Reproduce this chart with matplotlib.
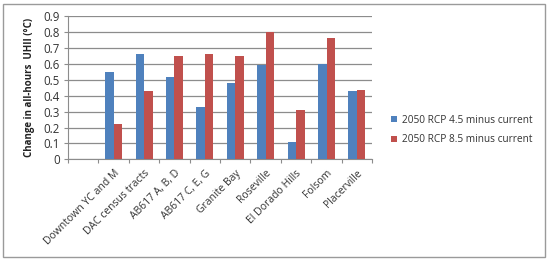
import numpy as np
import matplotlib
matplotlib.use("Agg")
import matplotlib.pyplot as plt
from matplotlib.patches import Rectangle

categories = ["", "Downtown YC and M", "DAC census tracts", "AB617 A, B, D",
              "AB617 C, E, G", "Granite Bay", "Roseville", "El Dorado Hills",
              "Folsom", "Placerville"]
rcp45 = [0, 0.55, 0.66, 0.52, 0.33, 0.48, 0.59, 0.11, 0.60, 0.43]
rcp85 = [0, 0.22, 0.43, 0.65, 0.66, 0.65, 0.80, 0.31, 0.76, 0.435]
yticks = [0, 0.1, 0.2, 0.3, 0.4, 0.5, 0.6, 0.7, 0.8, 0.9]

plt.rcParams['font.family'] = ['Open Sans', 'DejaVu Sans']

fig = plt.figure(figsize=(5.5, 2.6), dpi=100)
ax = fig.add_axes([0.1236, 0.387, 0.553, 0.551])

x = np.arange(len(categories))
w = 0.28
ax.bar(x - w/2, rcp45, w, color='#4F81BD', label='2050 RCP 4.5 minus current', zorder=3)
ax.bar(x + w/2, rcp85, w, color='#C0504D', label='2050 RCP 8.5 minus current', zorder=3)

ax.set_xlim(-0.5, len(categories) - 0.5)
ax.set_ylim(0, 0.9)
ax.set_yticks(yticks)
ax.set_yticklabels([f"{v:g}" for v in yticks], fontsize=8.3, color='#333333')
ax.yaxis.grid(True, color='#8c8c8c', linewidth=0.9, zorder=0)

ax.set_xticks(np.arange(len(categories) + 1) - 0.5)
ax.set_xticklabels([])
ax.set_xticks(x, minor=True)
ax.set_xticklabels(categories, minor=True, rotation=45, ha='right',
                   rotation_mode='anchor', fontsize=7.5, color='#333333')
ax.tick_params(axis='x', which='minor', length=0, pad=6)
ax.tick_params(axis='x', which='major', length=3, color='#8c8c8c')
ax.tick_params(axis='y', length=3, color='#8c8c8c', pad=3)

for s in ['top', 'right']:
    ax.spines[s].set_visible(False)
for s in ['left', 'bottom']:
    ax.spines[s].set_color('#8c8c8c')

ax.set_ylabel("Change in all-hours  UHII (°C)", fontsize=7, fontweight='bold',
              color='#222222', labelpad=6)

fig.legend(loc='center left', bbox_to_anchor=(0.695, 0.5), frameon=False,
           fontsize=7.3, handlelength=0.6, handleheight=0.6, handletextpad=0.4,
           labelspacing=0.85, labelcolor='#333333')

fig.patches.append(Rectangle((3/550, 3/260), 542/550, 253/260, transform=fig.transFigure,
                             fill=False, edgecolor='#9a9a9a', linewidth=1))

fig.savefig("out.png", dpi=100)
